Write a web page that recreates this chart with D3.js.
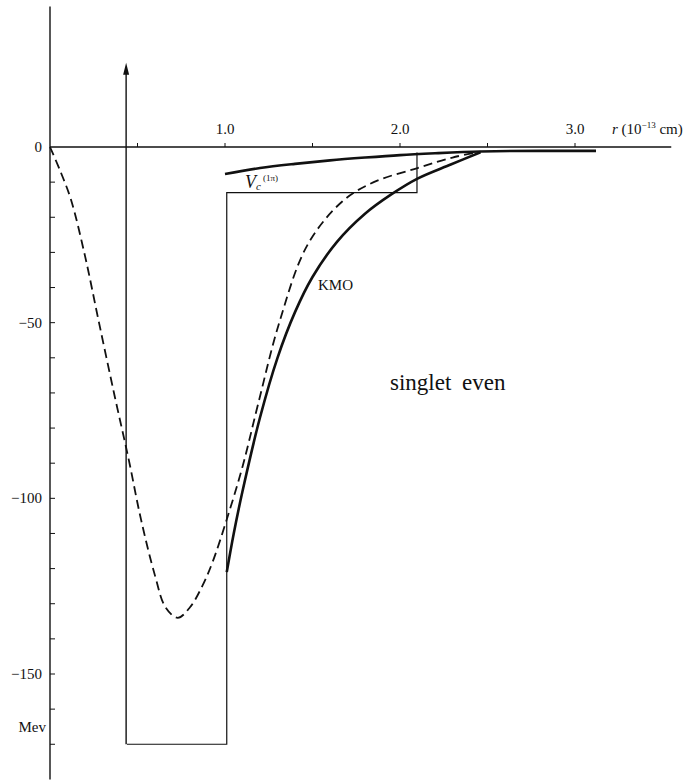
<!DOCTYPE html>
<html>
<head>
<meta charset="utf-8">
<script src="https://cdn.jsdelivr.net/npm/d3@7"></script>
<style>
  body { margin: 0; background: #fff; }
  svg { display: block; }
  text { font-family: 'Liberation Serif', 'DejaVu Serif', serif; fill: #111; }
</style>
</head>
<body>
<div id="chart"></div>
<script>
// r in 10^-13 cm, V in Mev
const xTickValues = [1.0, 2.0, 3.0];
const xMinorTicks = [0.5, 1.0, 1.5, 2.0, 2.5, 3.0];
const yTickLabels = [0, -50, -100, -150];
const yMinorTicks = [-10, -20, -30, -40, -50, -60, -70, -80, -90, -100, -110, -120, -130, -140, -150, -160, -170];

// dashed curve
const dashedR = [0, 0.06, 0.12, 0.2, 0.28, 0.37, 0.45, 0.52, 0.6, 0.66, 0.73, 0.8, 0.87, 0.93, 1.01, 1.1, 1.19, 1.31, 1.47, 1.67, 1.85, 2.1, 2.3, 2.46];
const dashedV = [0, -7, -15, -31, -50, -71, -89, -106, -122, -131, -134, -131, -125, -118, -106, -91, -73, -50, -28, -15.5, -10, -6, -3, -1.3];

// KMO solid curve
const kmoR = [1.01, 1.05, 1.1, 1.2, 1.3, 1.4, 1.5, 1.64, 1.8, 1.95, 2.1, 2.29, 2.46];
const kmoV = [-121, -110, -98, -77, -60, -47, -37, -27, -19, -13.5, -9, -5, -1.5];

// V_c^(1pi) curve
const vcR = [1.0, 1.2, 1.4, 1.6, 1.8, 2.0, 2.2, 2.46, 2.8, 3.12];
const vcV = [-7.7, -6, -4.8, -3.8, -3, -2.3, -1.8, -1.3, -1.1, -1.1];

// square well
const wellR = [0.44, 1.01, 1.01, 2.097, 2.097];
const wellV = [-170, -170, -13, -13, -1.6];
const arrowR = 0.435;
const arrowTop = 24;

const width = 693, height = 781;
const svg = d3.select('#chart').append('svg')
  .attr('width', width)
  .attr('height', height);

const x = d3.scaleLinear().domain([0, 1]).range([50, 225]);
const y = d3.scaleLinear().domain([0, -150]).range([147, 674]);

const ink = '#111';

// axes
svg.append('line')
  .attr('x1', x(0)).attr('x2', x(0))
  .attr('y1', y(40)).attr('y2', y(-180))
  .attr('stroke', ink).attr('stroke-width', 1.4);
svg.append('line')
  .attr('x1', x(0)).attr('x2', x(3.55))
  .attr('y1', y(0)).attr('y2', y(0))
  .attr('stroke', ink).attr('stroke-width', 1.3);

// x ticks (pointing up)
svg.selectAll('.xtick').data(xMinorTicks).enter().append('line')
  .attr('x1', d => x(d)).attr('x2', d => x(d))
  .attr('y1', y(0)).attr('y2', y(0) - 4)
  .attr('stroke', ink).attr('stroke-width', 1);
svg.selectAll('.xlab').data(xTickValues).enter().append('text')
  .attr('x', d => x(d)).attr('y', y(0) - 13)
  .attr('text-anchor', 'middle')
  .attr('font-size', 15)
  .text(d => d.toFixed(1));

// y ticks (pointing right)
svg.selectAll('.ytick').data(yMinorTicks).enter().append('line')
  .attr('x1', x(0)).attr('x2', x(0) + 5)
  .attr('y1', d => y(d)).attr('y2', d => y(d))
  .attr('stroke', ink).attr('stroke-width', 1);
svg.selectAll('.ylab').data(yTickLabels).enter().append('text')
  .attr('x', x(0) - 8).attr('y', d => y(d) + 5)
  .attr('text-anchor', 'end')
  .attr('font-size', 15)
  .text(d => d === 0 ? '0' : '\u2212' + Math.abs(d));
svg.append('text')
  .attr('x', x(0) - 4).attr('y', y(-165) + 5)
  .attr('text-anchor', 'end')
  .attr('font-size', 15)
  .text('Mev');

// x axis title
const xt = svg.append('text')
  .attr('x', 612).attr('y', y(0) - 13)
  .attr('font-size', 15);
xt.append('tspan').attr('font-style', 'italic').text('r');
xt.append('tspan').text(' (10');
xt.append('tspan').attr('font-size', 9).attr('dy', -6).text('\u221213');
xt.append('tspan').attr('dy', 6).text(' cm)');

// square well and arrow
const line = d3.line().x(d => x(d[0])).y(d => y(d[1]));
svg.append('path')
  .attr('d', line(d3.zip(wellR, wellV)))
  .attr('fill', 'none').attr('stroke', ink).attr('stroke-width', 1.2);
svg.append('line')
  .attr('x1', x(arrowR)).attr('x2', x(arrowR))
  .attr('y1', y(-170)).attr('y2', y(arrowTop) + 8)
  .attr('stroke', ink).attr('stroke-width', 1.4);
svg.append('path')
  .attr('d', `M${x(arrowR)},${y(arrowTop)} L${x(arrowR) - 3},${y(arrowTop) + 12} L${x(arrowR) + 3},${y(arrowTop) + 12} Z`)
  .attr('fill', ink);

// curves
const curve = d3.line().curve(d3.curveMonotoneX).x(d => x(d[0])).y(d => y(d[1]));
const curveC = d3.line().curve(d3.curveCatmullRom.alpha(0.5)).x(d => x(d[0])).y(d => y(d[1]));
svg.append('path')
  .attr('d', curveC(d3.zip(dashedR, dashedV)))
  .attr('fill', 'none').attr('stroke', ink)
  .attr('stroke-width', 1.8).attr('stroke-dasharray', '9,5');
svg.append('path')
  .attr('d', curveC(d3.zip(kmoR, kmoV)))
  .attr('fill', 'none').attr('stroke', ink).attr('stroke-width', 2.6);
svg.append('path')
  .attr('d', curve(d3.zip(vcR, vcV)))
  .attr('fill', 'none').attr('stroke', ink).attr('stroke-width', 2.6);

// labels
const vc = svg.append('text')
  .attr('x', 245).attr('y', 188)
  .attr('font-size', 18);
vc.append('tspan').attr('font-style', 'italic').text('V');
vc.append('tspan').attr('font-style', 'italic').attr('font-size', 11).attr('dy', 2).text('c');
vc.append('tspan').attr('font-size', 9).attr('dy', -9).attr('dx', 2).text('(1\u03c0)');

svg.append('text')
  .attr('x', 318).attr('y', 290)
  .attr('font-size', 15)
  .text('KMO');

svg.append('text')
  .attr('x', 390).attr('y', 390)
  .attr('font-size', 23)
  .attr('word-spacing', 5)
  .text('singlet even');
</script>
</body>
</html>
